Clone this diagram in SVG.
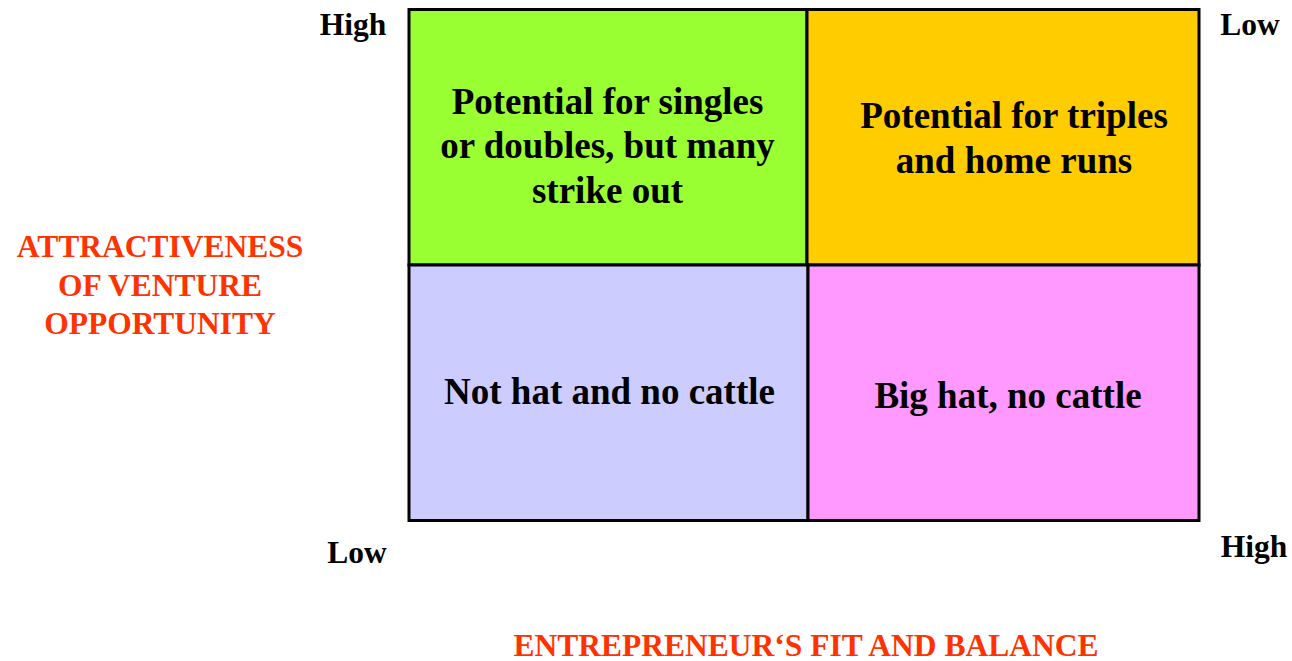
<svg xmlns="http://www.w3.org/2000/svg" width="1292" height="661" viewBox="0 0 1292 661">
<style>
.cell{stroke:#000;stroke-width:3}
.t{font-family:"Liberation Serif","Times New Roman",serif;font-weight:bold;fill:#000;text-anchor:middle}
.ct{font-size:37px}
.ax{font-size:31.5px}
.red{font-family:"Liberation Serif","Times New Roman",serif;font-weight:bold;fill:#FF3300;font-size:31.5px;text-anchor:middle}
</style>
<rect width="1292" height="661" fill="#fff"/>
<g id="q-tl"><rect class="cell" x="409" y="9.5" width="398" height="255.5" fill="#99FF33"/>
<text class="t ct" x="607.5" y="114">Potential for singles</text>
<text class="t ct" x="607.5" y="158">or doubles, but many</text>
<text class="t ct" x="607.5" y="203">strike out</text></g>
<g id="q-tr"><rect class="cell" x="807" y="9.5" width="392" height="255.5" fill="#FFCC00"/>
<text class="t ct" x="1014" y="128">Potential for triples</text>
<text class="t ct" x="1014" y="173">and home runs</text></g>
<g id="q-bl"><rect class="cell" x="409" y="265" width="399" height="255.5" fill="#CCCCFF"/>
<text class="t ct" x="609.5" y="404">Not hat and no cattle</text></g>
<g id="q-br"><rect class="cell" x="808" y="265" width="391" height="255.5" fill="#FF99FF"/>
<text class="t ct" x="1008" y="408">Big hat, no cattle</text></g>
<g id="axis-labels">
<text class="t ax" x="353" y="35">High</text>
<text class="t ax" x="1250" y="35">Low</text>
<text class="t ax" x="357" y="563">Low</text>
<text class="t ax" x="1254" y="557">High</text>
<text class="red" x="160" y="257">ATTRACTIVENESS</text>
<text class="red" x="160" y="296">OF VENTURE</text>
<text class="red" x="160" y="334">OPPORTUNITY</text>
<text class="red" x="806" y="656">ENTREPRENEUR‘S FIT AND BALANCE</text>
</g>
</svg>
